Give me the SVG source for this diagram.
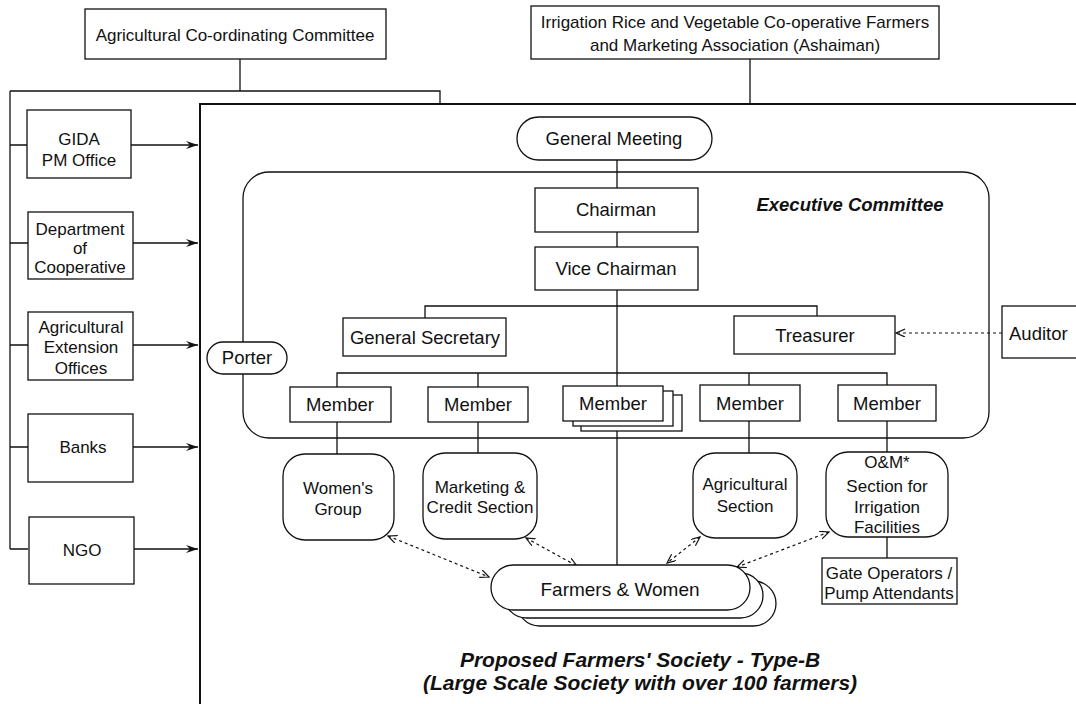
<svg xmlns="http://www.w3.org/2000/svg" width="1076" height="704" viewBox="0 0 1076 704">
<defs>
<style>
text{font-family:"Liberation Sans",Arial,sans-serif;fill:#111;text-anchor:middle}
.t17{font-size:17px}
.t18{font-size:18.5px}
.bi{font-weight:bold;font-style:italic}
.box{fill:#fff;stroke:#111;stroke-width:1.3}
.ln{fill:none;stroke:#111;stroke-width:1.3}
.dash{fill:none;stroke:#111;stroke-width:1.2;stroke-dasharray:3,3}
</style>
<marker id="arr" markerUnits="userSpaceOnUse" markerWidth="14" markerHeight="10" refX="12" refY="4" orient="auto">
<path d="M0,0 L12,4 L0,8 L4,4 Z" fill="#111"/>
</marker>
<marker id="oarr" markerUnits="userSpaceOnUse" markerWidth="12" markerHeight="10" refX="9" refY="4" orient="auto-start-reverse">
<path d="M0,0 L9,4 L0,8" fill="none" stroke="#111" stroke-width="1.2"/>
</marker>
</defs>
<rect width="1076" height="704" fill="#fff"/>

<!-- outer frame of the society -->
<g id="frame">
<path d="M200,704 V104 H1076" fill="none" stroke="#111" stroke-width="2"/>
</g>

<!-- executive committee container -->
<g id="executive-committee">
<rect x="243" y="172" width="746" height="266" rx="26" class="ln"/>
<text x="850" y="211" class="t18 bi">Executive Committee</text>
</g>

<g id="connectors">
<!-- Agricultural Co-ordinating Committee links -->
<path class="ln" d="M240,59 V91 M10,91 H440 V104 M10,91 V549"/>
<path class="ln" d="M10,145 H28 M10,243 H28 M10,345 H28 M10,447 H28 M10,549 H28"/>
<path class="ln" marker-end="url(#arr)" d="M131,145 H198"/>
<path class="ln" marker-end="url(#arr)" d="M133,243 H198"/>
<path class="ln" marker-end="url(#arr)" d="M133,345 H198"/>
<path class="ln" marker-end="url(#arr)" d="M133,447 H198"/>
<path class="ln" marker-end="url(#arr)" d="M134,549 H198"/>
<!-- Irrigation association -->
<path class="ln" d="M750,59 V104"/>
<!-- hierarchy -->
<path class="ln" d="M617,160 V188 M617,232 V247 M617,290 V565"/>
<path class="ln" d="M425,318 V306 H817 V316"/>
<path class="ln" d="M337,387 V373 H887 V385 M478,373 V387 M749,373 V385"/>
<path class="ln" d="M337,422 V454 M478,422 V453 M749,421 V453 M887,421 V452 M887,537 V558"/>
<!-- Auditor -->
<path class="dash" marker-end="url(#oarr)" d="M1002,333 H896"/>
<!-- dashed links to Farmers & Women -->
<path class="dash" marker-start="url(#oarr)" marker-end="url(#oarr)" d="M388,536 L489,577"/>
<path class="dash" marker-start="url(#oarr)" marker-end="url(#oarr)" d="M526,538 L577,566"/>
<path class="dash" marker-start="url(#oarr)" marker-end="url(#oarr)" d="M700,537 L667,563"/>
<path class="dash" marker-start="url(#oarr)" marker-end="url(#oarr)" d="M829,532 L737,567"/>
</g>

<g id="agri-coord-committee">
<rect x="85" y="9" width="301" height="50" class="box"/>
<text x="235" y="41" class="t17">Agricultural Co-ordinating Committee</text>
</g>
<g id="irrigation-association">
<rect x="531" y="6" width="408" height="53" class="box"/>
<text x="735" y="28" class="t17">Irrigation Rice and Vegetable Co-operative Farmers</text>
<text x="735" y="51" class="t17">and Marketing Association (Ashaiman)</text>
</g>
<g id="gida">
<rect x="27" y="110" width="104" height="68" class="box"/>
<text x="79" y="145" class="t17">GIDA</text>
<text x="79" y="166" class="t17">PM Office</text>
</g>
<g id="dept-cooperative">
<rect x="28" y="212" width="105" height="67" class="box"/>
<text x="80" y="235" class="t17">Department</text>
<text x="80" y="254" class="t17">of</text>
<text x="80" y="273" class="t17">Cooperative</text>
</g>
<g id="agri-extension">
<rect x="28" y="312" width="105" height="68" class="box"/>
<text x="81" y="333" class="t17">Agricultural</text>
<text x="81" y="353" class="t17">Extension</text>
<text x="81" y="374" class="t17">Offices</text>
</g>
<g id="banks">
<rect x="28" y="414" width="105" height="68" class="box"/>
<text x="83" y="453" class="t17">Banks</text>
</g>
<g id="ngo">
<rect x="29" y="517" width="105" height="67" class="box"/>
<text x="82" y="556" class="t17">NGO</text>
</g>

<g id="general-meeting">
<rect x="517" y="117" width="195" height="43" rx="21.5" class="box"/>
<text x="614" y="145" class="t18">General Meeting</text>
</g>
<g id="chairman">
<rect x="535" y="188" width="163" height="44" class="box"/>
<text x="616" y="216" class="t18">Chairman</text>
</g>
<g id="vice-chairman">
<rect x="535" y="247" width="163" height="43" class="box"/>
<text x="616" y="275" class="t18">Vice Chairman</text>
</g>
<g id="general-secretary">
<rect x="343" y="318" width="163" height="38" class="box"/>
<text x="425" y="344" class="t18">General Secretary</text>
</g>
<g id="treasurer">
<rect x="734" y="316" width="161" height="38" class="box"/>
<text x="815" y="342" class="t18">Treasurer</text>
</g>
<g id="auditor">
<rect x="1002" y="306" width="80" height="52" class="box"/>
<text x="1009" y="340" class="t18" style="text-anchor:start">Auditor</text>
</g>
<g id="porter">
<rect x="207" y="342" width="80" height="32" rx="16" class="box"/>
<text x="247" y="364" class="t18">Porter</text>
</g>
<g id="member-1">
<rect x="290" y="387" width="101" height="35" class="box"/>
<text x="340" y="411" class="t18">Member</text>
</g>
<g id="member-2">
<rect x="428" y="387" width="100" height="35" class="box"/>
<text x="478" y="411" class="t18">Member</text>
</g>
<g id="member-3">
<rect x="581" y="395" width="101" height="36" class="box"/>
<rect x="573" y="391" width="100" height="35" class="box"/>
<rect x="563" y="386" width="100" height="35" class="box"/>
<text x="613" y="410" class="t18">Member</text>
</g>
<g id="member-4">
<rect x="700" y="385" width="100" height="36" class="box"/>
<text x="750" y="410" class="t18">Member</text>
</g>
<g id="member-5">
<rect x="838" y="385" width="98" height="36" class="box"/>
<text x="887" y="410" class="t18">Member</text>
</g>

<g id="womens-group">
<rect x="283" y="454" width="111" height="86" rx="22" class="box"/>
<text x="338" y="494" class="t17">Women's</text>
<text x="338" y="515" class="t17">Group</text>
</g>
<g id="marketing-credit">
<rect x="423" y="453" width="114" height="86" rx="22" class="box"/>
<text x="480" y="493" class="t17">Marketing &amp;</text>
<text x="480" y="513" class="t17">Credit Section</text>
</g>
<g id="agricultural-section">
<rect x="693" y="453" width="104" height="85" rx="22" class="box"/>
<text x="745" y="490" class="t17">Agricultural</text>
<text x="745" y="512" class="t17">Section</text>
</g>
<g id="om-section">
<rect x="826" y="452" width="122" height="85" rx="22" class="box"/>
<text x="887" y="468" class="t17">O&amp;M*</text>
<text x="887" y="492" class="t17">Section for</text>
<text x="887" y="513" class="t17">Irrigation</text>
<text x="887" y="533" class="t17">Facilities</text>
</g>
<g id="gate-operators">
<rect x="822" y="558" width="135" height="46" class="box"/>
<text x="889" y="579" class="t17">Gate Operators /</text>
<text x="889" y="599" class="t17">Pump Attendants</text>
</g>
<g id="farmers-women">
<rect x="517" y="581" width="259" height="45" rx="22.5" class="box"/>
<rect x="504" y="573" width="259" height="45" rx="22.5" class="box"/>
<rect x="491" y="565" width="259" height="45" rx="22.5" class="box"/>
<text x="620" y="596" class="t18" style="font-size:19px">Farmers &amp; Women</text>
</g>

<g id="title">
<text x="640" y="667" class="bi" style="font-size:21px">Proposed Farmers' Society - Type-B</text>
<text x="640" y="690" class="bi" style="font-size:21px">(Large Scale Society with over 100 farmers)</text>
</g>
</svg>
